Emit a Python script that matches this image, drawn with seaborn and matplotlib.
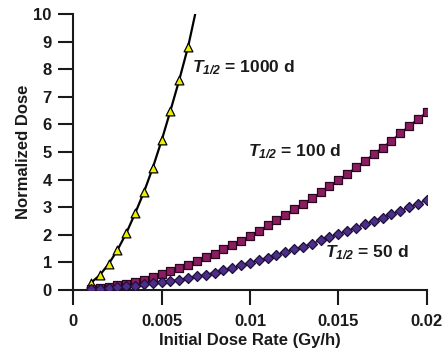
import matplotlib
matplotlib.use("Agg")
import matplotlib.pyplot as plt
import seaborn as sns
import numpy as np

# ---- data ----
x_1000 = [0.001, 0.0015, 0.002, 0.0025, 0.003, 0.0035, 0.004, 0.0045,
          0.005, 0.0055, 0.006, 0.0065]
y_1000 = [0.26, 0.54, 0.94, 1.45, 2.06, 2.78, 3.55, 4.43,
          5.42, 6.50, 7.62, 8.82]
# the fitted curve continues past the last marker up to the top of the axes
x_1000_end = [0.0069]
y_1000_end = [10.0]

x_rate = [0.001, 0.0015, 0.002, 0.0025, 0.003, 0.0035, 0.004, 0.0045,
          0.005, 0.0055, 0.006, 0.0065, 0.007, 0.0075, 0.008, 0.0085,
          0.009, 0.0095, 0.01, 0.0105, 0.011, 0.0115, 0.012, 0.0125,
          0.013, 0.0135, 0.014, 0.0145, 0.015, 0.0155, 0.016, 0.0165,
          0.017, 0.0175, 0.018, 0.0185, 0.019, 0.0195, 0.02]
y_100 = [0.05, 0.08, 0.12, 0.17, 0.23, 0.30, 0.38, 0.47,
         0.57, 0.68, 0.79, 0.92, 1.05, 1.18, 1.32, 1.47,
         1.63, 1.79, 1.96, 2.15, 2.34, 2.54, 2.72, 2.92,
         3.12, 3.32, 3.54, 3.76, 3.99, 4.20, 4.45, 4.67,
         4.93, 5.16, 5.41, 5.68, 5.94, 6.20, 6.44]
y_50 = [0.03, 0.05, 0.07, 0.10, 0.13, 0.16, 0.20, 0.24,
        0.28, 0.33, 0.38, 0.43, 0.49, 0.56, 0.63, 0.71,
        0.80, 0.89, 0.99, 1.08, 1.17, 1.27, 1.38, 1.47,
        1.57, 1.68, 1.80, 1.91, 2.02, 2.15, 2.26, 2.38,
        2.51, 2.62, 2.74, 2.87, 3.00, 3.12, 3.26]

x_ticks = [0, 0.005, 0.01, 0.015, 0.02]
x_ticklabels = ["0", "0.005", "0.01", "0.015", "0.02"]
y_ticks = list(range(0, 11))

labels = {
    "1000": r"$\mathbfit{T}_{\mathbfit{1/2}}$ = 1000 d",
    "100": r"$\mathbfit{T}_{\mathbfit{1/2}}$ = 100 d",
    "50": r"$\mathbfit{T}_{\mathbfit{1/2}}$ = 50 d",
}
label_pos = {"1000": (0.0067, 7.89), "100": (0.00987, 4.83), "50": (0.01425, 1.17)}

# ---- style ----
sns.set_style("ticks")
plt.rcParams["font.family"] = ["Liberation Sans", "DejaVu Sans"]
plt.rcParams["font.weight"] = "bold"
plt.rcParams["text.color"] = "#1a1a1a"
plt.rcParams["axes.labelcolor"] = "#1a1a1a"
plt.rcParams["xtick.color"] = "#1a1a1a"
plt.rcParams["ytick.color"] = "#1a1a1a"
plt.rcParams["mathtext.fontset"] = "custom"
plt.rcParams["mathtext.rm"] = "Liberation Sans:bold"
plt.rcParams["mathtext.it"] = "Liberation Sans:italic:bold"
plt.rcParams["mathtext.bf"] = "Liberation Sans:bold"
plt.rcParams["mathtext.bfit"] = "Liberation Sans:italic:bold"

fig = plt.figure(figsize=(4.48, 3.55), dpi=100)
ax = fig.add_axes([0.1636, 0.1831, 0.9524 - 0.1636, 0.9606 - 0.1831])

c_tri = "#eeee00"
c_sq = "#8c1c60"
c_sq_line = "#5a1040"
c_dia = "#4e2d8a"
c_dia_line = "#33205e"

# 1000 d curve + markers
sns.lineplot(x=x_1000 + x_1000_end, y=y_1000 + y_1000_end, ax=ax,
             color="black", lw=1.6, sort=True, zorder=2)
sns.scatterplot(x=x_1000, y=y_1000, ax=ax, marker="^", s=40,
                color=c_tri, edgecolor="black", linewidth=0.9, zorder=3)

# 100 d
sns.lineplot(x=x_rate, y=y_100, ax=ax, color=c_sq_line, lw=1.2, zorder=2)
sns.scatterplot(x=x_rate, y=y_100, ax=ax, marker="s", s=30,
                color=c_sq, edgecolor="#2a0520", linewidth=0.9, zorder=3)

# 50 d
sns.lineplot(x=x_rate, y=y_50, ax=ax, color=c_dia_line, lw=1.2, zorder=2)
sns.scatterplot(x=x_rate, y=y_50, ax=ax, marker="D", s=26,
                color=c_dia, edgecolor="#1a1038", linewidth=0.9, zorder=3)

for k, txt in labels.items():
    ax.text(label_pos[k][0], label_pos[k][1], txt, fontsize=12.5,
            fontweight="bold", ha="left", va="baseline")

ax.set_xlim(0, 0.02)
ax.set_ylim(0, 10)
ax.set_xticks(x_ticks)
ax.set_xticklabels(x_ticklabels)
ax.set_yticks(y_ticks)
ax.tick_params(direction="out", length=10.5, width=1.5, labelsize=12,
               pad=5)
ax.tick_params(axis="x", pad=7)
for lab in ax.get_xticklabels() + ax.get_yticklabels():
    lab.set_fontweight("bold")

sns.despine(ax=ax)
for sp in ("left", "bottom"):
    ax.spines[sp].set_linewidth(1.5)
    ax.spines[sp].set_color("#1a1a1a")

ax.set_xlabel("Initial Dose Rate (Gy/h)", fontsize=12, fontweight="bold", labelpad=3)
ax.set_ylabel("Normalized Dose", fontsize=12, fontweight="bold", labelpad=2)
ax.grid(False)

fig.savefig("out.png", dpi=100)
